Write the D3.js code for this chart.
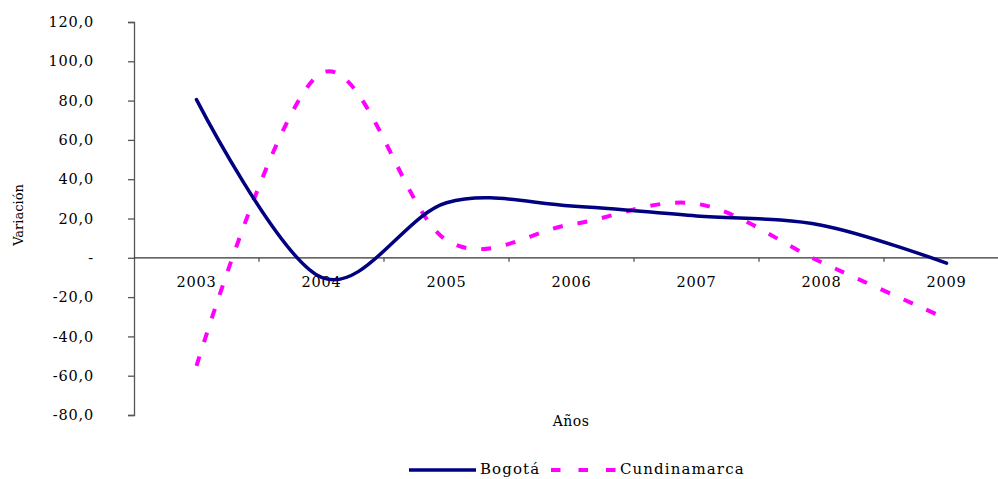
<!DOCTYPE html>
<html><head><meta charset="utf-8">
<script src="https://cdn.jsdelivr.net/npm/d3@7/dist/d3.min.js"></script>
<style>
body{margin:0;background:#fff;}
text{font-family:"DejaVu Serif",serif;fill:#000;}
</style></head>
<body><svg id="c" width="998" height="479"></svg>
<script>
const years = ["2003","2004","2005","2006","2007","2008","2009"];
const bogota = [80.5, -10.0, 28.0, 26.4, 21.3, 16.6, -2.7];
const cundinamarca = [-55.0, 94.0, 9.0, 17.0, 27.5, -2.3, -31.0];
const yTicks = [-80,-60,-40,-20,0,20,40,60,80,100,120];

const svg = d3.select("#c");
const x = d3.scaleBand().domain(years).range([134, 1009]);
const y = d3.scaleLinear().domain([-80,120]).range([415, 22]);
const cx = d => x(d) + x.bandwidth()/2;

// y axis
const yAxis = d3.axisLeft(y).tickValues(yTicks).tickSize(6).tickPadding(34)
  .tickFormat(v => v === 0 ? "-" : v.toFixed(1).replace(".", ","));
const ga = svg.append("g").attr("transform","translate(134,0)").call(yAxis);
ga.select(".domain").attr("stroke","#555").attr("stroke-width",1.3);
ga.selectAll(".tick line").attr("stroke","#555").attr("stroke-width",1.3);
ga.selectAll(".tick text").style("font-family","DejaVu Serif").style("font-size","14.5px").style("letter-spacing","0.8px").attr("fill","#000");

// x axis at zero
const gx = svg.append("g").attr("transform",`translate(0,${y(0)})`);
gx.append("line").attr("x1",134).attr("x2",998).attr("stroke","#333").attr("stroke-width",1.3);
years.forEach(yr => {
  gx.append("line").attr("x1",x(yr)+x.bandwidth()).attr("x2",x(yr)+x.bandwidth())
    .attr("y1",0).attr("y2",4).attr("stroke","#555").attr("stroke-width",1.3);
  gx.append("text").attr("x",cx(yr)).attr("y",29).attr("text-anchor","middle")
    .style("font-size","14.5px").style("letter-spacing","0.8px").text(yr);
});

const line = d3.line().x((d,i)=>cx(years[i])).y(d=>y(d)).curve(d3.curveCardinal.tension(0));
svg.append("path").datum(cundinamarca).attr("d",line).attr("fill","none")
  .attr("stroke","#FF00FF").attr("stroke-width",4).attr("stroke-dasharray","10,15");
svg.append("path").datum(bogota).attr("d",line).attr("fill","none")
  .attr("stroke","#000080").attr("stroke-width",3.5).attr("stroke-linecap","round");

// axis titles
svg.append("text").attr("transform","translate(23,215) rotate(-90)").attr("text-anchor","middle")
  .style("font-size","13px").text("Variación");
svg.append("text").attr("x",571).attr("y",426).attr("text-anchor","middle")
  .style("font-size","14px").style("letter-spacing","0.5px").text("Años");

// legend
const lg = svg.append("g");
lg.append("line").attr("x1",409).attr("x2",476).attr("y1",470).attr("y2",470)
  .attr("stroke","#000080").attr("stroke-width",3.5);
lg.append("text").attr("x",480).attr("y",474).style("font-size","15px").style("letter-spacing","1.1px").text("Bogotá");
lg.append("line").attr("x1",551).attr("x2",616).attr("y1",470).attr("y2",470)
  .attr("stroke","#FF00FF").attr("stroke-width",4).attr("stroke-dasharray","9.5,18");
lg.append("text").attr("x",620).attr("y",474).style("font-size","15px").style("letter-spacing","1.1px").text("Cundinamarca");
</script></body></html>
